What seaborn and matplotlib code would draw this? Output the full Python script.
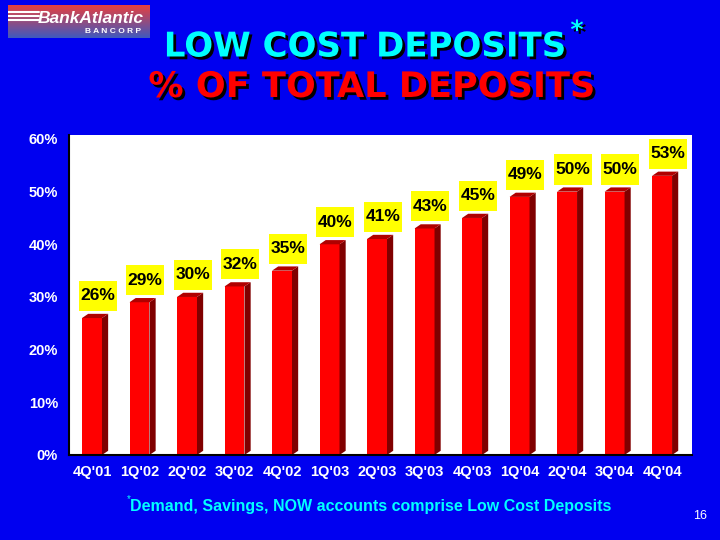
import matplotlib
matplotlib.use("Agg")
import matplotlib.pyplot as plt
import matplotlib.patheffects as pe
from matplotlib.patches import Polygon, Rectangle
import numpy as np
import pandas as pd
import seaborn as sns

quarters = ["4Q'01", "1Q'02", "2Q'02", "3Q'02", "4Q'02", "1Q'03", "2Q'03",
            "3Q'03", "4Q'03", "1Q'04", "2Q'04", "3Q'04", "4Q'04"]
values = [26, 29, 30, 32, 35, 40, 41, 43, 45, 49, 50, 50, 53]
yticks = [0, 10, 20, 30, 40, 50, 60]

BG = "#0000F0"
df = pd.DataFrame({"quarter": quarters, "pct": values})

sns.set_style("white")
plt.rcParams["font.family"] = ["Liberation Sans", "DejaVu Sans"]

fig = plt.figure(figsize=(7.2, 5.4), dpi=100, facecolor=BG)
ax = fig.add_axes([69 / 720, 1 - 455 / 540, 623 / 720, 320 / 540])
ax.set_facecolor("white")

sns.barplot(data=df, x="quarter", y="pct", color="#FF0000", saturation=1,
            width=0.42, ax=ax, edgecolor="none")

ax.set_xlim(-0.484, 12.63)
ax.set_ylim(0, 60.75)

# fake 3D depth for each bar
dx, dy = 0.13, 0.8
for p in ax.patches:
    x0, w, h = p.get_x(), p.get_width(), p.get_height()
    ax.add_patch(Polygon([(x0 + w, 0), (x0 + w + dx, dy), (x0 + w + dx, h + dy), (x0 + w, h)],
                         closed=True, facecolor="#800000", edgecolor="none"))
    ax.add_patch(Polygon([(x0, h), (x0 + dx, h + dy), (x0 + w + dx, h + dy), (x0 + w, h)],
                         closed=True, facecolor="#B00000", edgecolor="none"))

# yellow value labels
box_w, box_h, gap = 0.80, 5.7, 1.35
for i, v in enumerate(values):
    cx = i + 0.12
    ax.add_patch(Rectangle((cx - box_w / 2, v + gap), box_w, box_h,
                           facecolor="#FFFF00", edgecolor="none", zorder=3))
    ax.text(cx, v + gap + box_h / 2, f"{v}%", ha="center", va="center", fontsize=12.5,
            fontweight="bold", color="black", zorder=4)

ax.set_yticks(yticks)
ax.set_yticklabels([f"{t}%" for t in yticks])
ax.tick_params(axis="y", colors="black", direction="out", length=4, width=1.2,
               labelcolor="white", labelsize=10.5, pad=4)
ax.tick_params(axis="x", length=0, labelcolor="white", labelsize=10.5, pad=7)
for lab in ax.get_xticklabels() + ax.get_yticklabels():
    lab.set_fontweight("bold")
ax.set_xlabel("")
ax.set_ylabel("")
for s in ["top", "right"]:
    ax.spines[s].set_visible(False)
for s in ["left", "bottom"]:
    ax.spines[s].set_color("black")
    ax.spines[s].set_linewidth(1.5)

# titles
shadow = [pe.withSimplePatchShadow(offset=(2, -2), shadow_rgbFace="black", alpha=1)]
fig.text(365 / 720, 1 - 47 / 540, "LOW COST DEPOSITS", ha="center", va="center",
         fontsize=24.5, fontweight="bold", color="#00FFFF", path_effects=shadow,
         family="DejaVu Sans")
fig.text(577 / 720, 1 - 31 / 540, "*", ha="center", va="center",
         fontsize=18, fontweight="bold", color="#00FFFF", path_effects=shadow,
         family="DejaVu Sans")
fig.text(372 / 720, 1 - 87 / 540, "% OF TOTAL DEPOSITS", ha="center", va="center",
         fontsize=25.3, fontweight="bold", color="#FF0000", path_effects=shadow,
         family="DejaVu Sans")

# footnote and page number
fig.text(371 / 720, 1 - 507 / 540, "Demand, Savings, NOW accounts comprise Low Cost Deposits",
         ha="center", va="center", fontsize=11.5, fontweight="bold", color="#00FFFF")
fig.text(129 / 720, 1 - 499 / 540, "*", ha="center", va="center", fontsize=7, color="#00FFFF")
fig.text(700 / 720, 1 - 516 / 540, "16", ha="center", va="center", fontsize=9, color="white")

# logo
lax = fig.add_axes([8 / 720, 1 - 38 / 540, 142 / 720, 33 / 540])
grad = np.linspace(0, 1, 50)[:, None]
top_c = np.array([0.90, 0.25, 0.25])
bot_c = np.array([0.25, 0.35, 0.75])
img = top_c[None, None, :] * (1 - grad[:, :, None]) + bot_c[None, None, :] * grad[:, :, None]
lax.imshow(img, aspect="auto", extent=[0, 1, 0, 1])
lax.set_axis_off()
for yy in [0.78, 0.66, 0.54]:
    lax.plot([0.0, 0.22], [yy, yy], color="white", lw=1.5)
lax.text(0.58, 0.6, "BankAtlantic", ha="center", va="center", color="white",
         fontsize=12.5, fontweight="bold", style="italic")
lax.text(0.74, 0.2, "B A N C O R P", ha="center", va="center", color="white",
         fontsize=6, fontweight="bold")
lax.set_xlim(0, 1)
lax.set_ylim(0, 1)

fig.savefig("out.png", dpi=100, facecolor=BG)
